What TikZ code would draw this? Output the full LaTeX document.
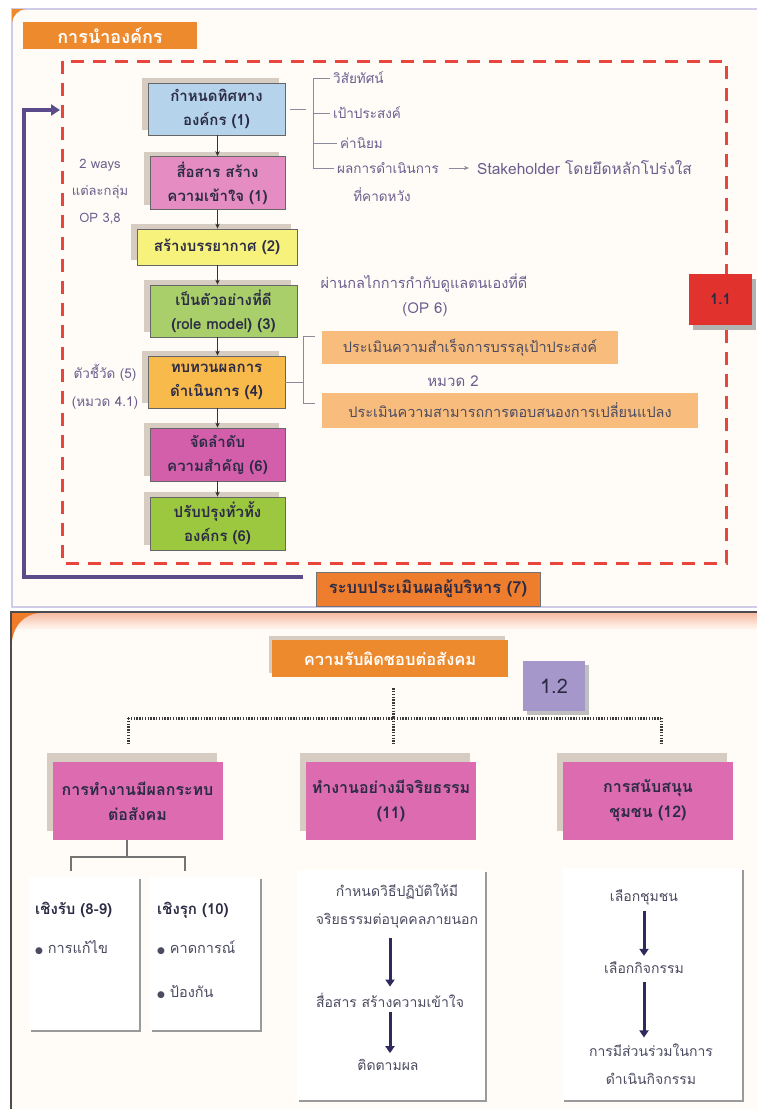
\documentclass[tikz,border=0pt]{standalone}
\usepackage{fontspec}
\setmainfont[Script=Thai]{Loma}
\newfontfamily\symfont{DejaVu Sans}
\usetikzlibrary{arrows.meta,shadows}

\definecolor{panelbg}{HTML}{FFFCF7}
\definecolor{frameline}{HTML}{CFCBE8}
\definecolor{titleorange}{HTML}{EE8A2E}
\definecolor{dashred}{HTML}{E8453C}
\definecolor{loopviolet}{HTML}{5B4B8A}
\definecolor{boxblue}{HTML}{B5D3EA}
\definecolor{boxpink}{HTML}{E58DC2}
\definecolor{boxyellow}{HTML}{F7F27C}
\definecolor{boxgreen}{HTML}{A9CF6B}
\definecolor{boxorange}{HTML}{F9BA4C}
\definecolor{boxmagenta}{HTML}{D35EAA}
\definecolor{boxlime}{HTML}{9BC83F}
\definecolor{shadowtan}{HTML}{D6CCC2}
\definecolor{inkdark}{HTML}{2B2B45}
\definecolor{inkgray}{HTML}{6B5E8E}
\definecolor{peach}{HTML}{F8BD7D}
\definecolor{tagred}{HTML}{E2322E}
\definecolor{evalorange}{HTML}{EE7D2E}
\definecolor{csrpink}{HTML}{DD6BB0}
\definecolor{taglavender}{HTML}{A697CB}
\definecolor{cardedge}{HTML}{9A9A9A}
\definecolor{navyarrow}{HTML}{2E2A5E}
\definecolor{dotgray}{HTML}{3A3A3A}
\definecolor{bracketgray}{HTML}{8A8A9A}
\definecolor{salmon}{HTML}{F7BBA2}

\begin{document}
\begin{tikzpicture}[x=1pt,y=-1pt,
  stepbox/.style={draw=black!60, line width=0.8pt, fill=#1, text=inkdark, align=center,
    inner sep=0pt, font=\bfseries\fontsize{15}{24}\selectfont,
    general shadow={fill=shadowtan, shadow xshift=-6pt, shadow yshift=5pt}},
  flow/.style={-{Stealth[length=5pt,width=4.5pt]}, line width=0.8pt, draw=black!80},
  listtext/.style={text=inkgray, font=\fontsize{13.5}{20}\selectfont, anchor=west, inner sep=0pt},
  notetext/.style={text=inkgray, font=\fontsize{13}{27}\selectfont, align=center, inner sep=0pt},
  bracket/.style={draw=bracketgray, line width=0.7pt},
  peachbox/.style={fill=peach, text=inkdark!85, font=\fontsize{14.5}{16}\selectfont, inner sep=0pt},
  csrbox/.style={fill=csrpink, text=inkdark, align=center, inner sep=0pt,
    minimum width=170pt, minimum height=78pt, font=\bfseries\fontsize{16}{25}\selectfont,
    general shadow={fill=shadowtan, shadow xshift=-6pt, shadow yshift=9pt}},
  dotline/.style={draw=dotgray, line width=3pt, dash pattern=on 1.4pt off 1.4pt},
  card/.style={fill=white, inner sep=0pt,
    general shadow={fill=cardedge, shadow xshift=2pt, shadow yshift=-2pt}},
  cardtext/.style={text=inkdark!85, font=\fontsize{14}{28}\selectfont, align=center, inner sep=0pt},
  cardhead/.style={text=inkdark, font=\bfseries\fontsize{15}{18}\selectfont, anchor=west, inner sep=0pt},
  bullettext/.style={text=inkdark!85, font=\fontsize{14.5}{18}\selectfont, anchor=west, inner sep=0pt},
  navyflow/.style={draw=navyarrow, line width=3pt, -{Triangle[length=7pt,width=9pt]}}
]
\useasboundingbox (0,0) rectangle (757,1109);
\fill[white] (0,0) rectangle (757,1109);

% ---------- upper panel: leadership ----------
\fill[panelbg] (12,9) rectangle (757,607);
\draw[frameline, line width=1.2pt] (757,9) -- (12,9) -- (12,607) -- (757,607);
\fill[titleorange] (12,9) -- (26,9) .. controls (18,10) and (13,15) .. (12,23) -- cycle;

\node[fill=titleorange, text=white, font=\bfseries\fontsize{18}{20}\selectfont,
  minimum width=174pt, minimum height=27pt, inner sep=0pt] (lead) at (110,35.5) {การนำองค์กร};

\draw[dashred, line width=3pt, dash pattern=on 13pt off 9pt] (62,61) rectangle (726,563);

% feedback loop from the executive evaluation back into the frame
\coordinate (loopstart) at (303,577);
\coordinate (loopend) at (60,110);
\draw[loopviolet, line width=4.5pt, -{Triangle[length=9pt,width=11pt]}]
  (loopstart) -- (24,577) -- (24,110) -- (loopend);

% main steps
\node[stepbox=boxblue, minimum width=137pt, minimum height=52pt] (b1) at (216.5,109) {กำหนดทิศทาง\\องค์กร (1)};
\node[stepbox=boxpink, minimum width=135pt, minimum height=53pt] (b2) at (217.5,183) {สื่อสาร สร้าง\\ความเข้าใจ (1)};
\node[stepbox=boxyellow, minimum width=160pt, minimum height=36pt] (b3) at (217,247) {สร้างบรรยากาศ (2)};
\node[stepbox=boxgreen, minimum width=147pt, minimum height=52pt] (b4) at (223.5,311) {เป็นตัวอย่างที่ดี\\(role model) (3)};
\node[stepbox=boxorange, minimum width=137pt, minimum height=52pt] (b5) at (216.5,382) {ทบทวนผลการ\\ดำเนินการ (4)};
\node[stepbox=boxmagenta, minimum width=135pt, minimum height=53pt] (b6) at (217.5,454.5) {จัดลำดับ\\ความสำคัญ (6)};
\node[stepbox=boxlime, minimum width=135pt, minimum height=53pt] (b7) at (217.5,523.5) {ปรับปรุงทั่วทั้ง\\องค์กร (6)};

\draw[flow] (b1.south -| b2.north) -- (b2.north);
\draw[flow] (b2.south) -- (b3.north -| b2.south);
\draw[flow] (b3.south -| b2.south) -- (b4.north -| b2.south);
\draw[flow] (b4.south -| b2.south) -- (b5.north -| b2.south);
\draw[flow] (b5.south -| b2.south) -- (b6.north);
\draw[flow] (b6.south) -- (b7.north);

% direction items
\node[listtext] (vis) at (333,78) {วิสัยทัศน์};
\node[listtext] (goal) at (333,113) {เป้าประสงค์};
\node[listtext] (val) at (340,143) {ค่านิยม};
\node[listtext] (res) at (337,168) {ผลการดำเนินการ};
\node[listtext, anchor=center] (res2) at (382,195) {ที่คาดหวัง};
\node[listtext, font=\fontsize{15.5}{20}\selectfont] (stake) at (477,168) {Stakeholder โดยยึดหลักโปร่งใส};
\coordinate (listspine) at (313,0);
\draw[bracket] ([xshift=5pt]b1.east) -- ([xshift=-7pt]b1.east -| listspine);
\draw[bracket] ([xshift=-3pt]vis.west) -- (vis.west -| listspine) -- (res.west -| listspine) -- ([xshift=-3pt]res.west);
\draw[bracket] (goal.west -| listspine) -- ([xshift=-3pt]goal.west);
\draw[bracket] (val.west -| listspine) -- ([xshift=-3pt]val.west);
\draw[bracket, -{Stealth[length=5pt,width=4pt]}] ([xshift=10pt]res.east) -- ([xshift=-8pt]stake.west);

% side notes
\node[notetext] (ways) at (100,192) {2 ways\\แต่ละกลุ่ม\\OP 3,8};
\node[notetext, font=\fontsize{13.5}{28}\selectfont] (kpi) at (105,387) {ตัวชี้วัด (5)\\(หมวด 4.1)};
\node[notetext, font=\fontsize{14.5}{18}\selectfont] (gov) at (424,283) {ผ่านกลไกการกำกับดูแลตนเองที่ดี};
\node[notetext, font=\fontsize{15}{18}\selectfont] (op6) at (425,310) {(OP 6)};

% review outcomes
\node[peachbox, minimum width=296pt, minimum height=33pt] (pe1) at (470,347.5) {ประเมินความสำเร็จการบรรลุเป้าประสงค์};
\node[notetext, font=\fontsize{15}{18}\selectfont] (cat2) at (453,381) {หมวด 2};
\node[peachbox, minimum width=376pt, minimum height=35pt] (pe2) at (510,410.5) {ประเมินความสามารถการตอบสนองการเปลี่ยนแปลง};
\coordinate (revspine) at (303,0);
\draw[bracket] (b5.east) -- (b5.east -| revspine);
\draw[bracket] ([xshift=-7pt,yshift=-6pt]pe1.north west) -- ([yshift=-6pt]pe1.north west -| revspine)
  -- ([yshift=-11pt]pe2.north west -| revspine) -- ([xshift=-7pt,yshift=-11pt]pe2.north west);

% category tag
\node[fill=tagred, text=inkdark, font=\bfseries\fontsize{15}{16}\selectfont,
  minimum width=63pt, minimum height=51pt, inner sep=0pt,
  general shadow={fill=black!30, shadow xshift=4pt, shadow yshift=-5pt}] (t11) at (720.5,299.5) {1.1};

% executive evaluation
\node[fill=evalorange, draw=black!55, line width=0.8pt, text=inkdark,
  font=\bfseries\fontsize{16.5}{18}\selectfont, minimum width=224pt, minimum height=34pt,
  inner sep=0pt] (evalbox) at (428,589) {ระบบประเมินผลผู้บริหาร (7)};

% ---------- lower panel: social responsibility ----------
\fill[panelbg] (11,612) rectangle (757,1109);
\shade[top color=salmon, bottom color=panelbg] (12,613) rectangle (757,630);
\fill[titleorange!90!red] (12,613) -- (38,613) .. controls (24,615) and (14,625) .. (12,641) -- cycle;
\draw[black!70, line width=2.2pt] (11,1109) -- (11,612) -- (757,612);

\node[fill=titleorange, text=white, font=\bfseries\fontsize{16.5}{18}\selectfont,
  minimum width=236pt, minimum height=37pt, inner sep=0pt,
  general shadow={fill=shadowtan, shadow xshift=-3pt, shadow yshift=4pt}] (csr) at (390,658.5) {ความรับผิดชอบต่อสังคม};
\node[fill=taglavender, text=inkdark, font=\fontsize{20}{22}\selectfont,
  minimum width=62pt, minimum height=50pt, inner sep=0pt,
  general shadow={fill=black!25, shadow xshift=4pt, shadow yshift=-4pt}] (t12) at (554,686) {1.2};

\node[csrbox] (p1) at (137.5,801) {การทำงานมีผลกระทบ\\ต่อสังคม};
\node[csrbox] (p2) at (391,801) {ทำงานอย่างมีจริยธรรม\\(11)};
\node[csrbox] (p3) at (648,801) {การสนับสนุน\\ชุมชน (12)};

\coordinate (hubrow) at (0,718);
\coordinate (drop1) at (128,744);
\coordinate (drop2) at (393,744);
\coordinate (drop3) at (661,744);
\draw[dotline] ([yshift=-11pt]csr.south -| drop2) -- (drop2 |- hubrow);
\draw[dotline] (drop1 |- hubrow) -- (drop3 |- hubrow);
\draw[dotline] (drop1 |- hubrow) -- (drop1);
\draw[dotline] (drop2 |- hubrow) -- (drop2);
\draw[dotline] (drop3 |- hubrow) -- (drop3);

% impact branch: reactive / proactive
\node[card, minimum width=110pt, minimum height=153pt] (c1) at (84,953.5) {};
\node[card, minimum width=110pt, minimum height=153pt] (c2) at (205,953.5) {};
\coordinate (split) at (127,857);
\draw[draw=black!55, line width=1.2pt] (p1.south -| split) -- (split);
\draw[draw=black!55, line width=1.2pt] ([yshift=-14pt]split -| 71,0) -- (split -| 71,0)
  -- (split -| 185,0) -- ([yshift=-14pt]split -| 185,0);

\node[cardhead] (rhead) at (35,910) {เชิงรับ (8-9)};
\node[bullettext] (r1) at (35,948) {{\symfont\fontsize{9}{9}\selectfont ●} การแก้ไข};
\node[cardhead] (phead) at (157,910) {เชิงรุก (10)};
\node[bullettext] (q1) at (157,948) {{\symfont\fontsize{9}{9}\selectfont ●} คาดการณ์};
\node[bullettext] (q2) at (157,992) {{\symfont\fontsize{9}{9}\selectfont ●} ป้องกัน};

% ethics branch
\node[card, minimum width=188pt, minimum height=230pt] (c3) at (391,985) {};
\node[cardtext] (m1) at (397,906) {กำหนดวิธีปฏิบัติให้มี\\จริยธรรมต่อบุคคลภายนอก};
\node[cardtext] (m2) at (390,1000) {สื่อสาร สร้างความเข้าใจ};
\node[cardtext] (m3) at (388,1065) {ติดตามผล};
\draw[navyflow] ([yshift=-10pt]m1.south -| m2.north) -- ([yshift=6pt]m2.north);
\draw[navyflow] ([yshift=-5pt]m2.south) -- ([yshift=6pt]m2.south |- m3.north);

% community branch
\node[card, minimum width=180pt, minimum height=232pt] (c4) at (652,984) {};
\node[cardtext] (k1) at (644,897) {เลือกชุมชน};
\node[cardtext] (k2) at (644,968) {เลือกกิจกรรม};
\node[cardtext] (k3) at (651,1064) {การมีส่วนร่วมในการ\\ดำเนินกิจกรรม};
\draw[navyflow] ([yshift=-6pt]k1.south) -- ([yshift=6pt]k2.north);
\draw[navyflow] ([yshift=-8pt]k2.south) -- ([yshift=6pt]k3.north -| k2.north);
\end{tikzpicture}
\end{document}
